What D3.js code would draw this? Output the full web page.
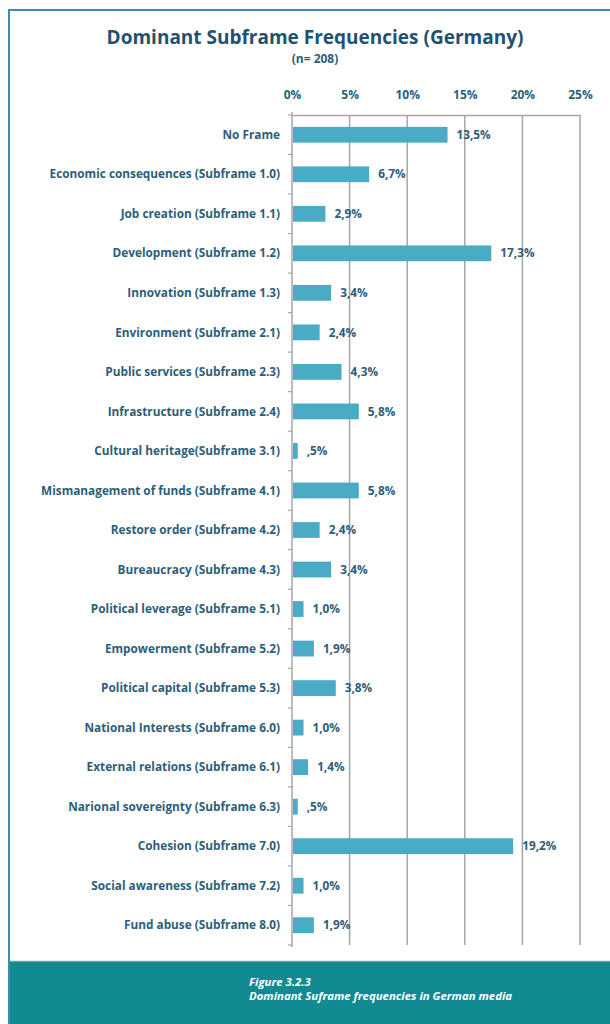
<!DOCTYPE html>
<html>
<head>
<meta charset="utf-8">
<script src="https://cdn.jsdelivr.net/npm/d3@7"></script>
<style>
  body { margin: 0; background: #fff; }
  svg { display: block; }
  .lbl { font-family: "Open Sans", sans-serif; font-weight: 700; fill: #2c5e7a; }
</style>
</head>
<body>
<svg id="chart" width="610" height="1024"></svg>
<script>
"use strict";

// categories, top to bottom
var categories = [
	"No Frame",
	"Economic consequences (Subframe 1.0)",
	"Job creation (Subframe 1.1)",
	"Development (Subframe 1.2)",
	"Innovation (Subframe 1.3)",
	"Environment (Subframe 2.1)",
	"Public services (Subframe 2.3)",
	"Infrastructure (Subframe 2.4)",
	"Cultural heritage(Subframe 3.1)",
	"Mismanagement of funds (Subframe 4.1)",
	"Restore order (Subframe 4.2)",
	"Bureaucracy (Subframe 4.3)",
	"Political leverage (Subframe 5.1)",
	"Empowerment (Subframe 5.2)",
	"Political capital (Subframe 5.3)",
	"National Interests (Subframe 6.0)",
	"External relations (Subframe 6.1)",
	"Narional sovereignty (Subframe 6.3)",
	"Cohesion (Subframe 7.0)",
	"Social awareness (Subframe 7.2)",
	"Fund abuse (Subframe 8.0)"
];

// percent of articles
var values = [13.5, 6.7, 2.9, 17.3, 3.4, 2.4, 4.3, 5.8, 0.5, 5.8, 2.4, 3.4,
	1.0, 1.9, 3.8, 1.0, 1.4, 0.5, 19.2, 1.0, 1.9];

var ticks = [0, 5, 10, 15, 20, 25];

var title = "Dominant Subframe Frequencies (Germany)";
var subtitle = "(n= 208)";
var caption = ["Figure 3.2.3", "Dominant Suframe frequencies in German media"];

var data = categories.map(function(c, i) { return {key: c, value: values[i]}; });

var svg = d3.select("#chart");

// frame and footer
svg.append("rect")
	.attr("x", 9).attr("y", 10)
	.attr("width", 640).attr("height", 1040)
	.attr("fill", "#fff")
	.attr("stroke", "#3d90a2")
	.attr("stroke-width", 2);

svg.append("rect")
	.attr("x", 10).attr("y", 961)
	.attr("width", 600).attr("height", 63)
	.attr("fill", "#118a91");
svg.append("line")
	.attr("x1", 10).attr("x2", 610)
	.attr("y1", 961).attr("y2", 961)
	.attr("stroke", "#b9cfd3")
	.attr("stroke-width", 1);

svg.selectAll(".cap")
	.data(caption)
	.enter().append("text")
	.attr("class", "cap")
	.attr("x", 249)
	.attr("y", function(d, i) { return 986 + i * 14; })
	.style("font-family", "'Open Sans', sans-serif")
	.style("font-style", "italic")
	.style("font-weight", 700)
	.style("font-size", "11.4px")
	.style("fill", "#fff")
	.text(function(d) { return d; });

// titles
svg.append("text")
	.attr("x", 315).attr("y", 44)
	.attr("text-anchor", "middle")
	.style("font-family", "'Open Sans', sans-serif")
	.style("font-weight", 700)
	.style("font-size", "19px")
	.style("fill", "#1f5270")
	.text(title);

svg.append("text")
	.attr("class", "lbl")
	.attr("x", 315).attr("y", 63)
	.attr("text-anchor", "middle")
	.style("font-size", "12px")
	.text(subtitle);

// scales
var margin = {left: 292, top: 115};
var width = 288, height = 830;

var x = d3.scaleLinear().domain([0, 25]).range([0, width]);
var y = d3.scaleBand().domain(categories).range([0, height]).paddingInner(0.6).paddingOuter(0.3);

var g = svg.append("g")
	.attr("transform", "translate(" + margin.left + "," + margin.top + ")");

// vertical grid
g.selectAll(".grid")
	.data(ticks.slice(1))
	.enter().append("line")
	.attr("class", "grid")
	.attr("x1", function(d) { return x(d); })
	.attr("x2", function(d) { return x(d); })
	.attr("y1", 0).attr("y2", height)
	.attr("stroke", "#a6a6a6")
	.attr("stroke-width", 1.5);

// top axis
var xAxis = d3.axisTop(x).tickValues(ticks).tickSize(0).tickPadding(16)
	.tickFormat(function(d) { return d + "%"; });
var xg = g.append("g").attr("class", "axis axis--x").call(xAxis);
xg.select(".domain").attr("stroke", "#a6a6a6").attr("stroke-width", 1.5);
xg.selectAll("text")
	.attr("class", "lbl")
	.style("font-size", "12px");

// left axis, ticks at category boundaries
var step = y.step();
var bounds = d3.range(categories.length + 1).map(function(i) { return y.range()[0] + i * step; });
g.append("line")
	.attr("x1", 0).attr("x2", 0)
	.attr("y1", -3).attr("y2", height + 2)
	.attr("stroke", "#a6a6a6")
	.attr("stroke-width", 1.5);
g.selectAll(".ytick")
	.data(bounds)
	.enter().append("line")
	.attr("class", "ytick")
	.attr("x1", -4).attr("x2", 0)
	.attr("y1", function(d) { return d; })
	.attr("y2", function(d) { return d; })
	.attr("stroke", "#a6a6a6")
	.attr("stroke-width", 1.2);

// category labels
g.selectAll(".cat")
	.data(data)
	.enter().append("text")
	.attr("class", "lbl cat")
	.attr("x", -12)
	.attr("y", function(d) { return y(d.key) + y.bandwidth() / 2; })
	.attr("dy", ".35em")
	.attr("text-anchor", "end")
	.style("font-size", "11.8px")
	.text(function(d) { return d.key; });

// bars
g.selectAll(".bar")
	.data(data)
	.enter().append("rect")
	.attr("class", "bar")
	.attr("x", x(0) + 1)
	.attr("y", function(d) { return y(d.key); })
	.attr("width", function(d) { return x(d.value) - x(0) - 1; })
	.attr("height", y.bandwidth())
	.attr("fill", "#4aabc4");

// value labels
var fmt = function(v) {
	var s = d3.format(".1f")(v).replace(".", ",");
	if (s.indexOf("0,") === 0) s = s.slice(1);
	return s + "%";
};
g.selectAll(".val")
	.data(data)
	.enter().append("text")
	.attr("class", "lbl val")
	.attr("x", function(d) { return x(d.value) + 9; })
	.attr("y", function(d) { return y(d.key) + y.bandwidth() / 2; })
	.attr("dy", ".35em")
	.style("font-size", "11.8px")
	.text(function(d) { return fmt(d.value); });
</script>
</body>
</html>
